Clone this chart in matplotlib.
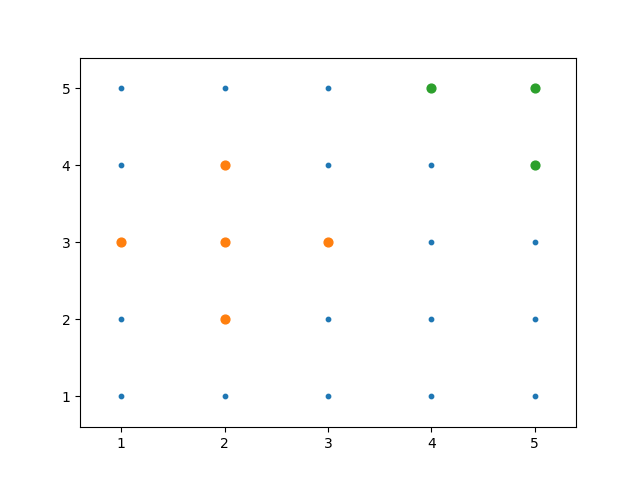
import matplotlib
matplotlib.use("Agg")
import matplotlib.pyplot as plt

grid_x = [1, 2, 3, 4, 5]
grid_y = [1, 2, 3, 4, 5]

orange_x = [1, 2, 2, 2, 3]
orange_y = [3, 2, 3, 4, 3]

green_x = [4, 5, 5]
green_y = [5, 5, 4]

xs = [x for x in grid_x for y in grid_y]
ys = [y for x in grid_x for y in grid_y]

fig, ax = plt.subplots(figsize=(6.4, 4.8), dpi=100)
ax.scatter(xs, ys, s=10, color="tab:blue")
ax.scatter(orange_x, orange_y, s=40, color="tab:orange")
ax.scatter(green_x, green_y, s=40, color="tab:green")

ax.set_xlim(0.6, 5.4)
ax.set_ylim(0.6, 5.4)
ax.set_xticks(grid_x)
ax.set_yticks(grid_y)

fig.savefig("out.png")
